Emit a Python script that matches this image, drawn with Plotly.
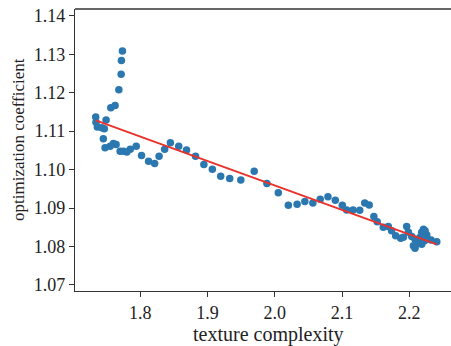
import numpy as np
import plotly.graph_objects as go

texture_complexity = [
    1.7338, 1.7342, 1.7492, 1.7362, 1.7428, 1.7466, 1.7451, 1.7477, 1.7552, 1.7601,
    1.7641, 1.7701, 1.7750, 1.7801, 1.7851, 1.7940, 1.8019, 1.8124, 1.8214, 1.8280,
    1.8363, 1.8448, 1.8572, 1.8688, 1.8822, 1.8946, 1.9072, 1.9196, 1.9330, 1.9495,
    1.9694, 1.7562, 1.7626, 1.7682, 1.7716, 1.7720, 1.7735,
    1.9883, 2.0052, 2.0202, 2.0332, 2.0447, 2.0566, 2.0676, 2.0791, 2.0900, 2.1004,
    2.1069, 2.1164, 2.1263, 2.1338, 2.1404, 2.1473, 2.1523, 2.1613, 2.1688, 2.1737,
    2.1797, 2.1872, 2.1912, 2.1961,
    2.1987, 2.2036, 2.2085, 2.2061, 2.2085, 2.2136, 2.2160, 2.2185, 2.2211, 2.2235,
    2.2260, 2.2226, 2.2185, 2.2111, 2.2324, 2.2409,
]
optimization_coefficient = [
    1.1137, 1.1123, 1.1129, 1.1111, 1.1109, 1.1106, 1.1080, 1.1057, 1.1061, 1.1068,
    1.1065, 1.1048, 1.1048, 1.1046, 1.1053, 1.1061, 1.1037, 1.1022, 1.1016, 1.1035,
    1.1053, 1.1070, 1.1061, 1.1051, 1.1035, 1.1013, 1.1001, 1.0983, 1.0977, 1.0973,
    1.0996, 1.1161, 1.1167, 1.1208, 1.1248, 1.1284, 1.1309,
    1.0964, 1.0940, 1.0907, 1.0910, 1.0917, 1.0913, 1.0923, 1.0929, 1.0920, 1.0907,
    1.0895, 1.0895, 1.0894, 1.0913, 1.0908, 1.0878, 1.0864, 1.0850, 1.0852, 1.0841,
    1.0828, 1.0821, 1.0824, 1.0852,
    1.0837, 1.0826, 1.0819, 1.0802, 1.0795, 1.0811, 1.0824, 1.0837, 1.0845, 1.0841,
    1.0830, 1.0815, 1.0806, 1.0806, 1.0817, 1.0812,
]
x_tick_values = [1.8, 1.9, 2.0, 2.1, 2.2]
y_tick_values = [1.07, 1.08, 1.09, 1.10, 1.11, 1.12, 1.13, 1.14]

x = np.array(texture_complexity)
y = np.array(optimization_coefficient)
slope, intercept = np.polyfit(x, y, 1)
x_fit = np.array([x.min(), x.max()])
y_fit = slope * x_fit + intercept

font_family = "Liberation Serif"
W, H = 451, 346
L, R, T, B = 75, 0, 9, 55

fig = go.Figure()
fig.add_trace(go.Scatter(
    x=x, y=y, mode="markers",
    marker=dict(color="#2b77b0", size=7.5, line=dict(width=0)),
    showlegend=False,
))
fig.add_trace(go.Scatter(
    x=x_fit, y=y_fit, mode="lines",
    line=dict(color="#e8322b", width=2),
    showlegend=False,
))

axis_common = dict(
    showgrid=False, zeroline=False, showline=True, linecolor="#333333", linewidth=1.3,
    ticks="outside", ticklen=5, tickwidth=1.3, tickcolor="#333333",
    tickfont=dict(family=font_family, size=18, color="#222222"),
    automargin=False,
)

plot_h = H - T - B
plot_w = W - L - R

fig.update_layout(
    width=W, height=H,
    margin=dict(l=L, r=R, t=T, b=B, autoexpand=False),
    plot_bgcolor="white", paper_bgcolor="white",
    font=dict(family=font_family, color="#222222"),
    xaxis=dict(
        range=[1.703, 2.262], tickvals=x_tick_values,
        ticktext=[f"{v:.1f}" for v in x_tick_values],
        **axis_common,
    ),
    yaxis=dict(
        range=[1.0684, 1.1418], tickvals=y_tick_values,
        ticktext=[f"{v:.2f}" for v in y_tick_values],
        **axis_common,
    ),
    shapes=[dict(type="line", xref="paper", yref="paper", x0=0, x1=1, y0=1, y1=1,
                 line=dict(color="#333333", width=1.3))],
    annotations=[
        dict(text="texture complexity", xref="paper", yref="paper",
             x=(268 - L) / plot_w, y=-(334 - (H - B)) / plot_h,
             xanchor="center", yanchor="middle", showarrow=False,
             font=dict(family=font_family, size=20, color="#222222")),
        dict(text="optimization coefficient", xref="paper", yref="paper",
             x=-(L - 19) / plot_w, y=((H - B) - 140) / plot_h,
             xanchor="center", yanchor="middle", showarrow=False, textangle=-90,
             font=dict(family=font_family, size=17, color="#222222")),
    ],
)

fig.write_html(
    "out.html",
    config={"displayModeBar": False},
    post_script="document.body.style.margin='0';document.body.style.padding='0';"
                "document.body.style.overflow='hidden';",
)
